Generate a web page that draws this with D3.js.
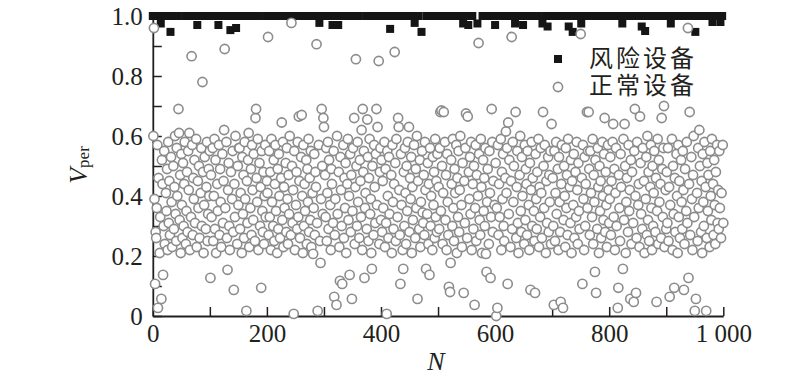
<!DOCTYPE html>
<html><head><meta charset="utf-8">
<script src="https://cdn.jsdelivr.net/npm/d3@7"></script>
<style>body{margin:0;background:#fff}svg{display:block}</style>
</head><body><svg id="c" width="800" height="385"></svg>
<script>
// Risk devices (squares): device index N and V_per
const riskN = [0,11,14,22,31,35,44,57,66,75,78,83,92,
104,112,115,121,128,136,138,146,147,155,163,170,178,186,199,
210,217,224,232,241,250,259,268,279,290,292,
301,310,315,321,325,333,340,352,361,374,386,395,
405,416,417,428,437,448,457,459,466,471,480,489,500,
511,520,531,540,544,550,553,560,569,578,588,598,600,
609,617,626,634,635,642,649,650,658,667,675,683,688,692,700,
709,718,729,730,736,740,749,751,760,769,778,787,797,
805,814,822,823,832,841,850,857,860,863,871,880,889,898,
908,909,917,925,934,943,951,953,960,968,975,981,988,995,998];
const riskV = [1.0,1.0,0.975,1.0,0.947,1.0,1.0,1.0,1.0,1.0,0.97,1.0,1.0,
1.0,1.0,0.97,1.0,1.0,0.953,1.0,0.96,1.0,1.0,1.0,1.0,1.0,1.0,1.0,
1.0,1.0,1.0,1.0,1.0,1.0,1.0,1.0,1.0,1.0,0.977,
1.0,1.0,0.97,1.0,0.97,1.0,1.0,1.0,1.0,1.0,1.0,1.0,
1.0,0.957,1.0,1.0,1.0,1.0,1.0,0.977,1.0,0.947,1.0,1.0,1.0,
1.0,1.0,1.0,1.0,0.975,1.0,0.97,1.0,0.975,1.0,1.0,1.0,0.97,
1.0,1.0,1.0,1.0,0.975,1.0,0.97,1.0,1.0,1.0,1.0,0.975,1.0,0.965,1.0,
1.0,1.0,0.965,1.0,0.947,1.0,1.0,0.975,1.0,1.0,1.0,1.0,1.0,
1.0,1.0,1.0,0.975,1.0,1.0,1.0,0.965,1.0,0.95,1.0,1.0,1.0,1.0,
0.975,1.0,1.0,1.0,1.0,1.0,0.947,1.0,1.0,1.0,1.0,0.98,1.0,0.98,1.0];

// Normal devices (circles): V_per in device order (device indices not used by risk devices)
const normalV = [
// N 1-100
0.60,0.96,0.39,0.107,0.28,0.26,0.36,0.57,0.027,0.46,
0.21,0.33,0.057,0.52,0.44,0.137,0.30,0.55,0.24,0.41,
0.35,0.49,0.22,0.58,0.31,0.45,0.27,0.53,0.38,0.23,
0.50,0.29,0.43,0.60,0.34,0.25,0.56,0.40,0.69,0.61,
0.32,0.47,0.21,0.54,0.37,0.26,0.51,0.30,0.44,0.58,
0.24,0.35,0.48,0.28,0.55,0.42,0.61,0.22,0.33,0.866,
0.57,0.27,0.46,0.39,0.52,0.31,0.59,0.23,0.45,0.36,
0.50,0.26,0.41,0.56,0.30,0.78,0.48,0.21,0.37,0.53,
0.29,0.43,0.58,0.25,0.34,0.49,0.40,0.55,
// N 101-200
0.127,0.47,0.33,0.56,0.25,0.40,0.59,0.29,0.52,0.21,
0.44,0.35,0.57,0.27,0.49,0.38,0.23,0.54,0.31,0.45,
0.62,0.89,0.36,0.58,0.26,0.154,0.42,0.51,0.30,0.22,
0.48,0.39,0.55,0.28,0.087,0.44,0.33,0.60,0.24,0.50,
0.37,0.56,0.56,0.29,0.41,0.21,0.53,0.34,0.47,0.26,
0.58,0.39,0.017,0.45,0.31,0.52,0.61,0.23,0.36,0.49,
0.27,0.57,0.42,0.32,0.54,0.25,0.66,0.69,0.46,0.38,
0.59,0.22,0.51,0.30,0.43,0.094,0.55,0.35,0.28,0.48,
0.24,0.40,0.57,0.33,0.45,
// N 201-300
0.41,0.93,0.27,0.55,0.33,0.48,0.22,0.59,0.38,0.30,
0.52,0.25,0.44,0.57,0.35,0.21,0.49,0.29,0.54,0.40,
0.26,0.46,0.645,0.32,0.58,0.23,0.43,0.36,0.51,0.28,
0.56,0.39,0.24,0.47,0.34,0.60,0.27,0.977,0.50,0.31,
0.42,0.007,0.55,0.22,0.37,0.48,0.29,0.58,0.33,0.665,
0.45,0.26,0.53,0.67,0.40,0.21,0.57,0.30,0.44,0.35,
0.52,0.24,0.49,0.38,0.59,0.28,0.46,0.32,0.55,0.23,
0.41,0.207,0.36,0.54,0.27,0.48,0.43,0.906,0.31,0.017,
0.57,0.25,0.177,0.39,0.69,0.50,0.34,0.66,0.63,
// N 301-400
0.47,0.33,0.56,0.25,0.41,0.58,0.29,0.52,0.37,0.22,
0.49,0.44,0.31,0.55,0.064,0.27,0.39,0.037,0.60,0.34,
0.48,0.23,0.117,0.53,0.42,0.30,0.107,0.57,0.26,0.46,
0.36,0.51,0.21,0.44,0.59,0.32,0.40,0.137,0.54,0.28,
0.47,0.057,0.35,0.56,0.66,0.24,0.43,0.856,0.50,0.30,
0.58,0.38,0.26,0.52,0.45,0.33,0.62,0.22,0.69,0.48,
0.55,0.127,0.36,0.41,0.29,0.655,0.53,0.25,0.46,0.59,
0.34,0.39,0.21,0.157,0.50,0.27,0.57,0.43,0.31,0.54,
0.69,0.37,0.63,0.85,0.24,0.48,0.56,0.32,
// N 401-500
0.52,0.28,0.45,0.36,0.58,0.23,0.49,0.31,0.007,0.55,
0.40,0.26,0.53,0.34,0.47,0.21,0.57,0.38,0.29,0.44,
0.88,0.51,0.25,0.59,0.33,0.66,0.63,0.42,0.27,0.107,
0.54,0.37,0.22,0.157,0.48,0.30,0.56,0.41,0.24,0.50,
0.35,0.58,0.63,0.28,0.46,0.39,0.53,0.21,0.43,0.32,
0.57,0.26,0.49,0.36,0.60,0.057,0.45,0.29,0.52,0.23,
0.38,0.55,0.345,0.31,0.47,0.27,0.58,0.42,0.157,0.34,
0.51,0.24,0.44,0.137,0.56,0.30,0.40,0.22,0.53,0.37,
0.48,0.26,0.59,0.33,0.45,0.28,0.54,
// N 501-600
0.43,0.29,0.56,0.68,0.35,0.685,0.50,0.24,0.41,0.68,
0.58,0.32,0.47,0.22,0.54,0.38,0.27,0.097,0.08,0.177,
0.52,0.44,0.30,0.59,0.36,0.25,0.49,0.41,0.57,0.21,
0.46,0.33,0.55,0.28,0.42,0.60,0.37,0.23,0.51,0.077,
0.45,0.31,0.56,0.675,0.26,0.665,0.48,0.39,0.53,0.34,
0.58,0.22,0.44,0.29,0.50,0.037,0.36,0.57,0.25,0.47,
0.40,0.91,0.54,0.32,0.27,0.59,0.43,0.21,0.52,0.35,
0.46,0.30,0.56,0.207,0.147,0.38,0.49,0.24,0.55,0.41,
0.127,0.33,0.69,0.58,0.28,0.45,0.37,
// N 601-700
0.51,0.0,0.36,0.027,0.57,0.27,0.44,0.33,0.59,0.22,
0.48,0.39,0.54,0.30,0.25,0.46,0.615,0.41,0.56,0.107,
0.645,0.34,0.52,0.23,0.45,0.93,0.29,0.58,0.38,0.50,
0.68,0.26,0.43,0.55,0.31,0.21,0.47,0.60,0.35,0.28,
0.53,0.40,0.24,0.57,0.32,0.49,0.44,0.27,0.55,0.37,
0.22,0.51,0.087,0.42,0.58,0.30,0.46,0.35,0.25,0.077,
0.54,0.39,0.29,0.48,0.59,0.23,0.43,0.33,0.56,0.41,
0.26,0.68,0.50,0.36,0.57,0.21,0.45,0.31,0.53,0.28,
0.47,0.38,0.55,0.24,0.64,
// N 701-800
0.46,0.30,0.037,0.55,0.25,0.41,0.58,0.34,0.49,0.22,
0.53,0.38,0.28,0.047,0.44,0.57,0.027,0.32,0.50,0.40,
0.23,0.56,0.36,0.47,0.27,0.59,0.43,0.31,0.52,0.21,
0.45,0.37,0.54,0.26,0.48,0.33,0.58,0.42,0.24,0.51,
0.35,0.29,0.94,0.46,0.107,0.57,0.39,0.22,0.53,0.30,
0.44,0.68,0.36,0.55,0.68,0.49,0.27,0.55,0.41,0.33,
0.59,0.24,0.47,0.38,0.147,0.52,0.077,0.29,0.56,0.43,
0.21,0.50,0.35,0.45,0.26,0.58,0.40,0.32,0.54,0.66,
0.28,0.48,0.37,0.23,0.57,0.42,0.31,
// N 801-900
0.39,0.53,0.27,0.45,0.58,0.64,0.33,0.49,0.22,0.41,
0.56,0.30,0.027,0.094,0.47,0.36,0.25,0.54,0.43,0.157,
0.59,0.32,0.64,0.50,0.21,0.38,0.46,0.28,0.57,0.35,
0.42,0.057,0.52,0.24,0.48,0.31,0.047,0.55,0.69,0.40,
0.077,0.26,0.58,0.37,0.44,0.23,0.665,0.51,0.34,0.29,
0.56,0.45,0.21,0.39,0.53,0.27,0.60,0.32,0.48,0.25,
0.43,0.57,0.36,0.22,0.50,0.30,0.41,0.55,0.28,0.46,
0.047,0.35,0.59,0.24,0.52,0.38,0.44,0.26,0.66,0.49,
0.33,0.56,0.70,0.23,0.42,0.29,
// N 901-1000
0.48,0.31,0.56,0.25,0.43,0.064,0.37,0.59,0.22,0.50,
0.34,0.094,0.46,0.28,0.54,0.40,0.21,0.57,0.33,0.45,
0.26,0.52,0.38,0.29,0.55,0.42,0.087,0.24,0.49,0.35,
0.58,0.31,0.96,0.127,0.44,0.68,0.27,0.53,0.39,0.22,
0.47,0.60,0.33,0.017,0.057,0.41,0.25,0.56,0.36,0.62,
0.50,0.28,0.45,0.21,0.54,0.38,0.30,0.58,0.43,0.017,
0.26,0.51,0.35,0.47,0.23,0.55,0.40,0.32,0.59,0.44,
0.27,0.52,0.37,0.24,0.48,0.57,0.31,0.42,0.29,0.55,
0.36,0.26,0.41,0.57,0.31
];

const xTickValues = [0,100,200,300,400,500,600,700,800,900,1000];
const xTickLabels = {0:"0",200:"200",400:"400",600:"600",800:"800",1000:"1 000"};
const yTickValues = [0,0.1,0.2,0.3,0.4,0.5,0.6,0.7,0.8,0.9,1.0];
const yTickLabels = {0:"0",0.2:"0.2",0.4:"0.4",0.6:"0.6",0.8:"0.8",1:"1.0"};
const legendLabels = ["风险设备","正常设备"];

const svg = d3.select("#c");
const x = d3.scaleLinear().domain([0,1000]).range([152.8,723.3]);
const y = d3.scaleLinear().domain([0,1]).range([316,16]);

// assign device indices to normal devices (skip indices of risk devices)
const riskSet = new Set(riskN);
const normal = [];
let n = 1;
normalV.forEach(v => { while (riskSet.has(n)) n++; normal.push({n: n, v: v}); n++; });
const risk = riskN.map((d,i) => ({n: d, v: riskV[i]}));

const axisColor = "#231f20";
const serif = "'Liberation Serif','Times New Roman',serif";

const gx = svg.append("g").attr("transform","translate(0,316)")
  .call(d3.axisBottom(x).tickValues(xTickValues).tickSizeInner(-9).tickSizeOuter(0).tickPadding(8)
    .tickFormat(d => xTickLabels[d] !== undefined ? xTickLabels[d] : ""));
const gy = svg.append("g").attr("transform","translate(152.8,0)")
  .call(d3.axisLeft(y).tickValues(yTickValues).tickSizeInner(-9).tickSizeOuter(0).tickPadding(10)
    .tickFormat(d => { const k = Math.round(d*10)/10; return yTickLabels[k] !== undefined ? yTickLabels[k] : ""; }));
[gx, gy].forEach(g => {
  g.select(".domain").attr("stroke", axisColor).attr("stroke-width", 1.8);
  g.selectAll(".tick line").attr("stroke", axisColor).attr("stroke-width", 1.5);
  g.selectAll(".tick text").attr("fill", axisColor).style("font-family", serif).style("font-size","25px");
});

// risk squares
svg.append("g").selectAll("rect").data(risk).join("rect")
  .attr("x", d => x(d.n) - 4).attr("y", d => y(d.v) - 4)
  .attr("width", 8).attr("height", 8).attr("fill", "#151515");

// normal circles
svg.append("g").selectAll("circle").data(normal).join("circle")
  .attr("cx", d => x(d.n)).attr("cy", d => y(d.v)).attr("r", 4.6)
  .attr("fill", "#fff").attr("stroke", "#8c8c8c").attr("stroke-width", 1.6);

// legend
svg.append("rect").attr("x", 546).attr("y", 45).attr("width", 160).attr("height", 55).attr("fill", "#fff");
const lg = svg.append("g");
lg.append("rect").attr("x", 554).attr("y", 55).attr("width", 8).attr("height", 8).attr("fill", "#151515");
lg.append("circle").attr("cx", 558).attr("cy", 87).attr("r", 4.6).attr("fill", "#fff").attr("stroke", "#8c8c8c").attr("stroke-width", 1.6);
lg.selectAll("text").data(legendLabels).join("text")
  .attr("x", 589).attr("y", (d,i) => 67 + i*27)
  .attr("fill", "#231f20")
  .style("font-family", "'Noto Sans CJK SC',sans-serif").style("font-size","24px").style("letter-spacing","3px")
  .text(d => d);

// axis titles
svg.append("text").attr("x", 436).attr("y", 370).attr("text-anchor","middle")
  .attr("fill", axisColor).style("font-family", serif).style("font-size","26px").style("font-style","italic").text("N");
const yt = svg.append("text").attr("transform","translate(87,165) rotate(-90)").attr("text-anchor","middle")
  .attr("fill", axisColor).style("font-family", serif);
yt.append("tspan").style("font-size","26px").style("font-style","italic").text("V");
yt.append("tspan").style("font-size","17px").attr("dy", 2).text("per");
</script></body></html>
